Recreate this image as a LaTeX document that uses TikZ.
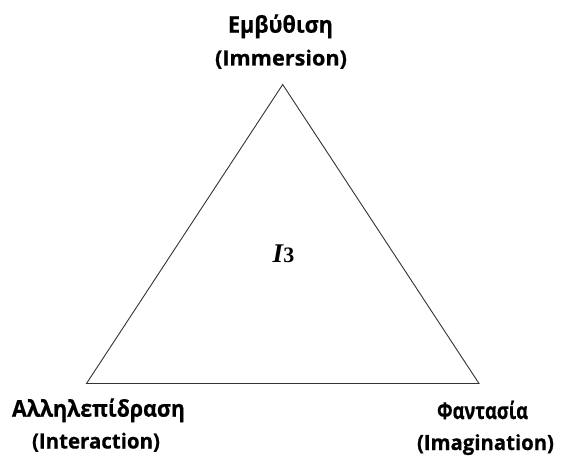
\documentclass[tikz,border=0pt]{standalone}
\usepackage{fontspec}
\usepackage{graphicx}
\setmainfont{Open Sans}[BoldFeatures={FakeBold=0.6}]
\newfontfamily\serifI{Liberation Serif}
\newcommand{\fitw}[2]{\resizebox{#1pt}{\height}{#2}}
\begin{document}
\begin{tikzpicture}[x=1pt,y=-1pt,
  lbl/.style={anchor=base,inner sep=0pt,font=\fontsize{21}{25}\selectfont\bfseries},
  grk/.style={lbl,font=\fontsize{23}{27}\selectfont\bfseries},
  tri/.style={draw=black!80,line width=0.9pt,line join=miter}]
\useasboundingbox (0,0) rectangle (563,460);
\coordinate (A) at (282.7,84.5);
\coordinate (B) at (86.5,383.5);
\coordinate (C) at (479,383.5);
\draw[tri] (A) -- (B) -- (C) -- cycle;
\node[grk] (a1) at (280.5,32.7) {\fitw{105}{Εμβύθιση}};
\node[lbl] (a2) at (281,65.5) {\fitw{132}{(Immersion)}};
\node[grk] (b1) at (98.5,416.7) {\fitw{173}{Αλληλεπίδραση}};
\node[lbl] (b2) at (96,448.5) {\fitw{128}{(Interaction)}};
\node[grk] (c1) at (482.5,419) {\fitw{91}{Φαντασία}};
\node[lbl] (c2) at (485.5,450) {\fitw{137}{(Imagination)}};
\node[anchor=base,inner sep=0pt] (m) at (283.5,262) {\serifI\fontsize{27}{30}\selectfont\bfseries\itshape I\upshape\fontsize{22}{25}\selectfont 3};
\end{tikzpicture}
\end{document}
